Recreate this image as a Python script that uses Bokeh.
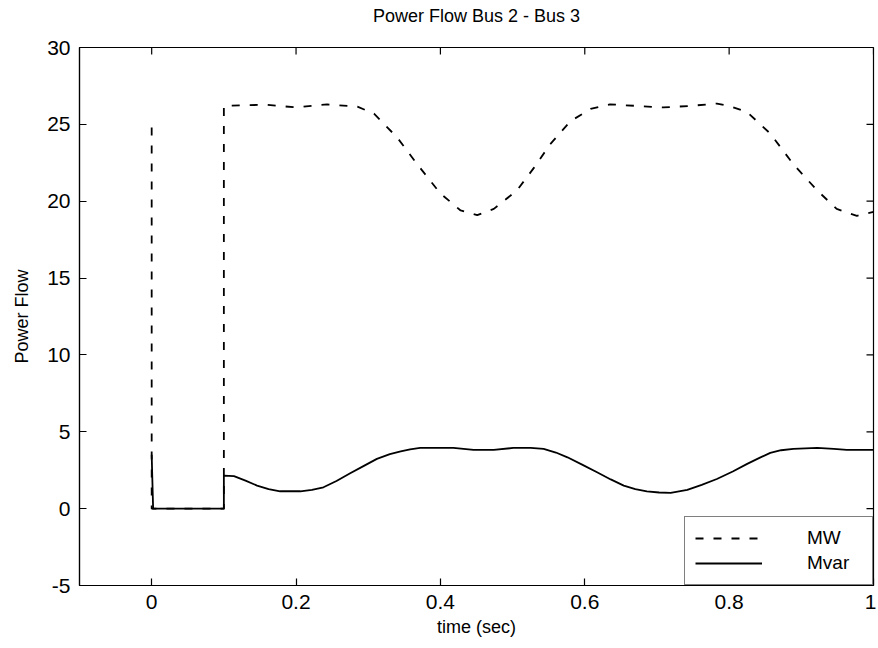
import math
from bokeh.plotting import figure
from bokeh.models import (LinearAxis, Range1d, FixedTicker, CustomJSTickFormatter, Legend,
                          LegendItem)
from bokeh.embed import file_html
from bokeh.resources import INLINE

# ---- data ----
mw_t = [0.0, 0.0, 0.1, 0.1, 0.13, 0.16, 0.2, 0.243, 0.285, 0.308, 0.34, 0.368, 0.40, 0.428,
        0.451, 0.474, 0.506, 0.53, 0.552, 0.58, 0.608, 0.635, 0.672, 0.709, 0.746, 0.783,
        0.80, 0.825, 0.857, 0.889, 0.922, 0.949, 0.977, 1.0]
mw_v = [24.8, 0.0, 0.0, 26.2, 26.25, 26.27, 26.1, 26.3, 26.15, 25.7, 24.15, 22.4, 20.5, 19.4,
        19.1, 19.5, 20.7, 22.2, 23.7, 25.2, 26.0, 26.3, 26.2, 26.1, 26.2, 26.35,
        26.2, 25.8, 24.4, 22.4, 20.7, 19.5, 19.05, 19.3]

mvar_t = [0.0, 0.002, 0.1, 0.1, 0.114, 0.13, 0.146, 0.162, 0.178, 0.206, 0.222, 0.238, 0.256,
          0.275, 0.294, 0.312, 0.33, 0.345, 0.358, 0.372, 0.418, 0.446, 0.474, 0.501, 0.525,
          0.543, 0.56, 0.576, 0.597, 0.617, 0.636, 0.654, 0.67, 0.686, 0.703, 0.719, 0.742,
          0.762, 0.783, 0.805, 0.825, 0.842, 0.857, 0.872, 0.889, 0.922, 0.945, 0.963, 1.0]
mvar_v = [3.5, 0.0, 0.0, 2.15, 2.11, 1.82, 1.5, 1.27, 1.13, 1.13, 1.22, 1.39, 1.8,
          2.3, 2.78, 3.24, 3.55, 3.73, 3.86, 3.95, 3.95, 3.82, 3.82, 3.95, 3.95,
          3.89, 3.65, 3.34, 2.85, 2.37, 1.9, 1.5, 1.27, 1.13, 1.05, 1.03, 1.22,
          1.55, 1.93, 2.42, 2.91, 3.3, 3.63, 3.8, 3.89, 3.95, 3.89, 3.82, 3.82]

x_ticks = [0, 0.2, 0.4, 0.6, 0.8, 1.0]
y_ticks = [-5, 0, 5, 10, 15, 20, 25, 30]

title_text = "Power Flow Bus 2 - Bus 3"
x_label = "time (sec)"
y_label = "Power Flow"
series_names = ["MW", "Mvar"]

FONT = "Liberation Sans"
X_MIN, X_MAX, Y_MIN, Y_MAX = -0.1, 1.0, -5, 30

p = figure(width=876, height=645, output_backend="svg", toolbar_location=None,
           x_range=Range1d(X_MIN, X_MAX), y_range=Range1d(Y_MIN, Y_MAX),
           min_border_left=79, min_border_right=3, min_border_top=47, min_border_bottom=60,
           x_axis_location=None, y_axis_location=None)
p.background_fill_color = "white"
p.border_fill_color = "white"
p.outline_line_color = "black"
p.outline_line_width = 1.2
p.xgrid.visible = False
p.ygrid.visible = False

# a trailing empty line lifts the title to the top of the page, as in the reference
p.title.text = title_text + "\n"
p.title.align = "center"
p.title.text_font = FONT
p.title.text_font_size = "18px"
p.title.text_font_style = "normal"
p.title.text_color = "black"
p.title.standoff = 4

fmt = CustomJSTickFormatter(code="return String(Math.round(tick*10)/10);")

def style_axis(ax):
    ax.major_tick_in = 7
    ax.major_tick_out = 0
    ax.minor_tick_in = 0
    ax.minor_tick_out = 0
    ax.axis_line_color = "black"
    ax.axis_line_width = 1.2
    ax.major_tick_line_color = "black"
    ax.major_tick_line_width = 1.2
    ax.major_label_text_font = FONT
    ax.major_label_text_color = "black"
    ax.major_label_text_font_size = "21px"
    ax.major_label_standoff = 9
    ax.axis_label_text_font = FONT
    ax.axis_label_text_font_style = "normal"
    ax.axis_label_text_color = "black"
    ax.axis_label_text_font_size = "18px"

xb = LinearAxis(ticker=FixedTicker(ticks=x_ticks), formatter=fmt, axis_label=x_label)
style_axis(xb)
xb.axis_label_standoff = 5
p.add_layout(xb, "below")

yl = LinearAxis(ticker=FixedTicker(ticks=y_ticks), formatter=fmt, axis_label=y_label)
style_axis(yl)
yl.axis_label_standoff = 12
p.add_layout(yl, "left")

# inward ticks on the top and right edges of the box
p.ray(x=x_ticks, y=[Y_MAX] * len(x_ticks), length=7, length_units="screen",
      angle=-math.pi / 2, line_color="black", line_width=1.2)
p.ray(x=[X_MAX] * len(y_ticks), y=y_ticks, length=7, length_units="screen",
      angle=math.pi, line_color="black", line_width=1.2)

r_mw = p.line(mw_t, mw_v, line_color="black", line_width=1.8, line_dash="8 10")
r_mvar = p.line(mvar_t, mvar_v, line_color="black", line_width=1.8, line_join="round")

legend = Legend(items=[LegendItem(label=series_names[0], renderers=[r_mw]),
                       LegendItem(label=series_names[1], renderers=[r_mvar])],
                location="bottom_right", margin=0, padding=10, spacing=3,
                glyph_width=67, glyph_height=22, label_height=22, label_standoff=45,
                label_width=55,
                label_text_font=FONT, label_text_font_size="19px", label_text_color="black",
                border_line_color="black", border_line_width=1.2,
                background_fill_color="white", background_fill_alpha=1.0)
p.add_layout(legend, "center")

open("out.html", "w").write(file_html(p, INLINE))
